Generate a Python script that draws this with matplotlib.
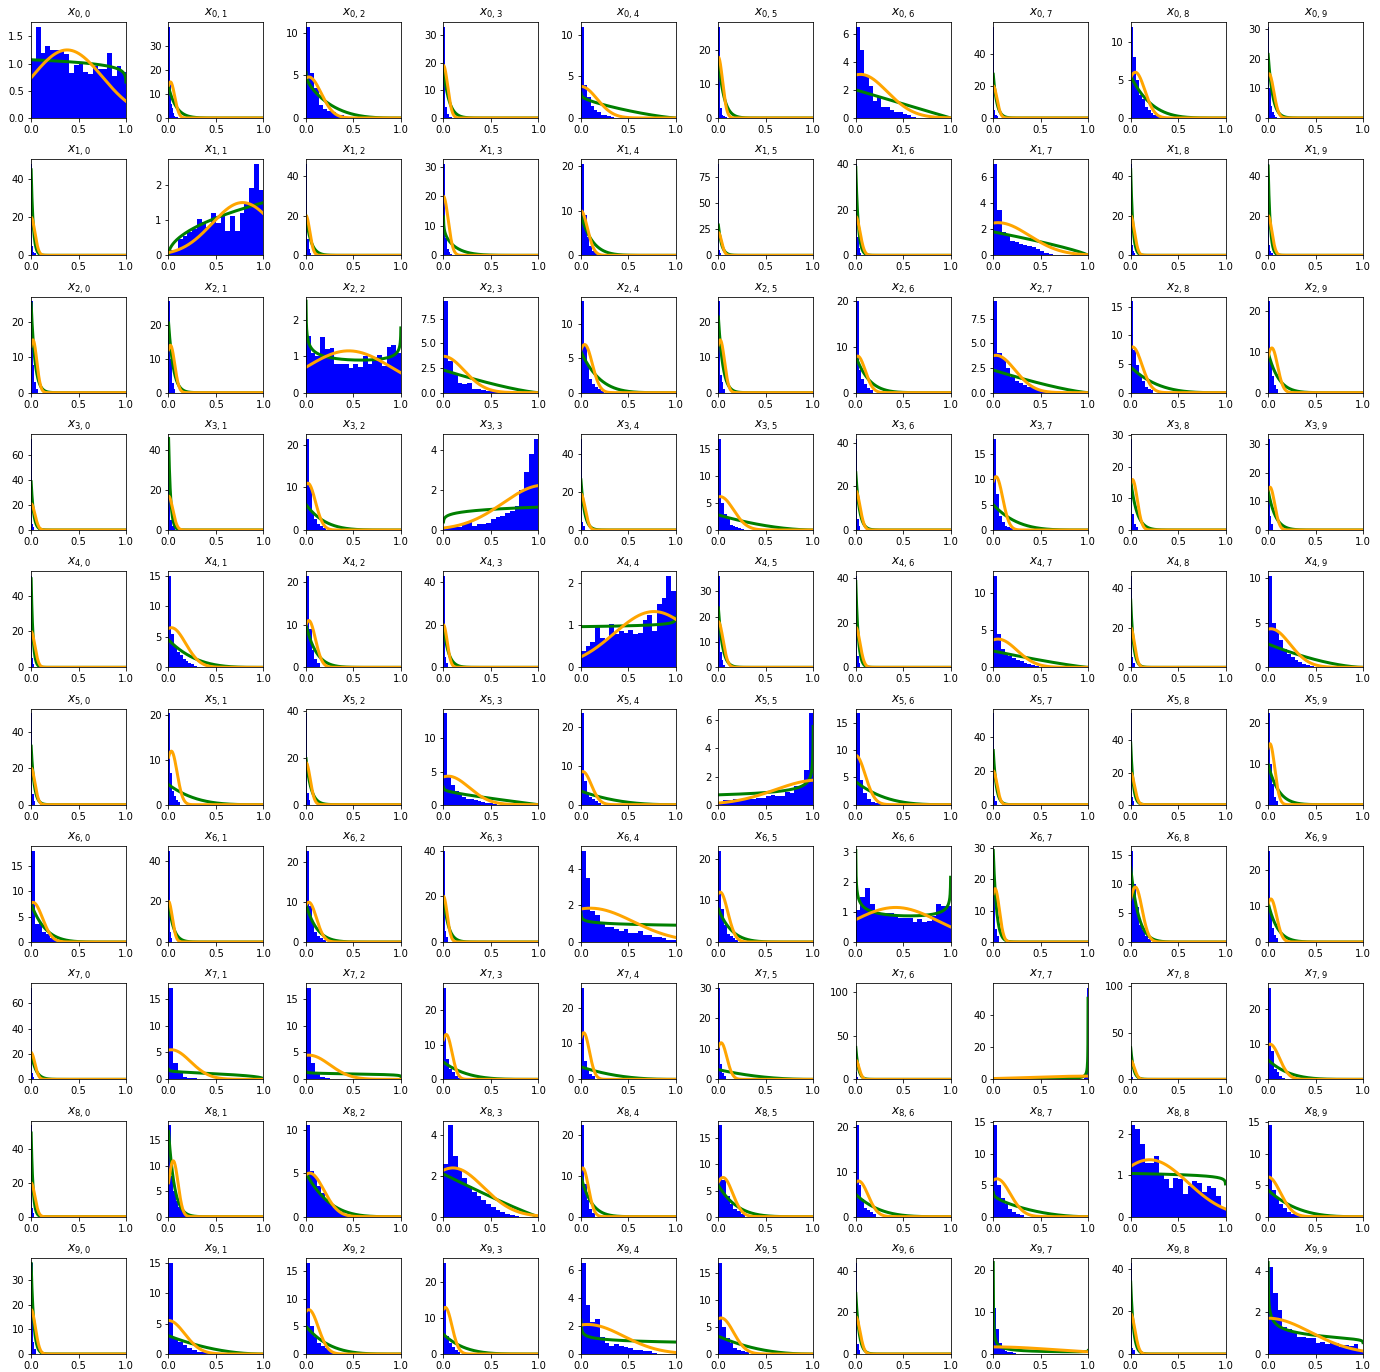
import math
import numpy as np
from matplotlib import pyplot as plt

# histogram bars per panel (density heights, bins start at bin_start with width bin_width)
heights_row0 = [
    [1.05, 1.68, 1.2, 1.33, 1.25, 1.25, 1.25, 1.18, 0.83, 0.97, 1.0, 0.85, 0.8, 0.95, 0.9, 0.9, 1.2, 0.78, 0.95, 0.85],
    [38, 14, 6, 4, 2, 1, 0.5, 0.3],
    [10.7, 5.3, 3.5, 1.5, 1.0, 0.8, 0.7, 0.4, 0.3, 0.1],
    [33, 4, 1.5, 0.5, 0.3],
    [11, 4, 2.5, 1.5, 1.0, 0.7, 0.4, 0.3, 0.2, 0.1],
    [27, 3, 1, 0.5, 0.2],
    [6.5, 4.8, 3.0, 2.3, 1.2, 1.5, 0.8, 0.8, 0.6, 0.4, 0.4, 0.3, 0.2, 0.1],
    [57, 5, 2, 1],
    [12, 8, 5, 3, 2.5, 1.5, 1, 0.7, 0.4, 0.3, 0.2],
    [31, 10, 4, 2, 1, 0.5],
]
heights_row1 = [
    [48, 5, 2, 1],
    [0.15, 0.15, 0.45, 0.55, 0.65, 0.75, 1.03, 0.95, 0.8, 1.2, 0.93, 1.15, 0.7, 1.12, 0.7, 1.2, 1.45, 1.9, 2.6, 1.87],
    [46, 8, 3, 1],
    [31, 6, 2, 1, 0.5],
    [20.5, 9, 4, 2, 1, 0.5],
    [88, 5, 2],
    [40, 8, 3, 1],
    [7, 3.5, 1.8, 1.5, 1.1, 1.0, 0.9, 0.8, 0.7, 0.6, 0.5, 0.3, 0.2, 0.1],
    [46, 5, 2, 1],
    [46, 5, 2, 1],
]
heights_row2 = [
    [26, 8, 3, 1],
    [27, 10, 3, 1],
    [1.55, 1.1, 1.0, 1.52, 1.2, 1.23, 0.78, 0.8, 0.78, 0.68, 0.78, 0.7, 1.0, 0.8, 0.97, 1.03, 0.72, 1.25, 1.3, 1.1],
    [9.3, 3.2, 2.0, 1.0, 0.85, 0.95, 0.4, 0.35, 0.3, 0.2, 0.15, 0.1],
    [13.3, 7, 4, 2, 1.3, 0.8, 0.5, 0.3],
    [26, 5, 3, 1],
    [20, 5, 3, 2, 1, 0.5],
    [9.3, 4.0, 3.5, 2.5, 1.6, 1.2, 1.0, 0.8, 0.6, 0.5, 0.4, 0.2, 0.1],
    [16, 7.5, 4.8, 3, 2, 1, 0.7, 0.4],
    [22.5, 8, 4, 2, 1],
]
heights_row3 = [
    [73, 5, 2],
    [31, 5, 2, 1],
    [21.5, 10, 4, 2.5, 1.5, 1, 0.5],
    [0.05, 0.2, 0.2, 0.15, 0.35, 0.4, 0.2, 0.3, 0.3, 0.35, 0.55, 0.65, 0.7, 0.85, 0.95, 1.2, 2.0, 2.9, 3.8, 4.6],
    [48, 4, 2],
    [17, 5, 3, 2, 1, 0.8, 0.5, 0.3, 0.2],
    [42, 5, 2],
    [18, 7, 2.8, 1.5, 0.8, 0.5, 0.3],
    [29, 5, 2, 1],
    [32, 5, 2],
]
heights_row4 = [
    [51, 5, 2],
    [15, 5.5, 3.5, 2.5, 2, 1.4, 1.0, 0.7, 0.5, 0.3],
    [21.5, 9, 4, 2, 1],
    [43, 5, 2],
    [0.4, 0.5, 0.6, 0.95, 0.7, 0.65, 1.03, 0.8, 0.87, 0.82, 0.9, 0.8, 0.82, 1.13, 1.25, 0.87, 1.5, 1.65, 2.18, 1.83],
    [36, 6, 3, 1],
    [41, 5, 2],
    [12.3, 4.5, 2.5, 1.8, 1.5, 1.2, 1.0, 0.8, 0.6, 0.4, 0.3, 0.2],
    [46, 5, 2],
    [10.2, 5, 4, 3, 2, 1.5, 1.2, 0.8, 0.6, 0.4, 0.3, 0.2],
]
heights_row5 = [
    [50, 6, 2],
    [20.5, 7, 3, 2, 1, 0.5],
    [39, 5, 2],
    [13.8, 4.5, 3, 2, 1.5, 1.2, 0.9, 0.8, 0.7, 0.5, 0.4, 0.3, 0.2, 0.1],
    [23.5, 6, 3, 2, 1.5, 1, 0.5],
    [0.1, 0.35, 0.35, 0.4, 0.4, 0.4, 0.4, 0.4, 0.45, 0.45, 0.6, 0.7, 0.6, 0.6, 0.9, 0.85, 1.35, 1.35, 2.45, 6.5],
    [16.7, 4.5, 2.2, 1.0, 0.5, 0.3, 0.2],
    [54, 5, 2],
    [57, 5, 2],
    [22.5, 10, 5, 2, 1],
]
heights_row6 = [
    [18, 3.5, 4, 2, 1.5, 0.8, 0.5, 0.3],
    [45, 5, 2],
    [23, 9, 5, 2.5, 1.5, 1, 0.5],
    [40, 5, 2],
    [5.0, 3.5, 1.7, 1.5, 1.0, 0.8, 0.8, 0.7, 0.6, 0.7, 0.5, 0.5, 0.6, 0.4, 0.4, 0.3, 0.3, 0.2, 0.1, 0.1],
    [22, 8, 4, 2, 1.5, 1, 0.5],
    [1.05, 1.5, 1.8, 1.25, 1.0, 0.95, 0.95, 0.95, 0.9, 0.8, 0.8, 0.8, 0.65, 0.75, 0.65, 0.7, 0.85, 1.25, 1.2, 1.2],
    [27.5, 4, 2],
    [15.8, 10, 6, 3, 2, 1, 0.5],
    [25.5, 8, 4, 2, 1],
]
heights_row7 = [
    [72, 5, 2],
    [17, 3, 1.5, 0.5, 0.3, 0.2],
    [17, 3, 1, 0.5, 0.3],
    [26.5, 6, 3, 2, 1, 0.5],
    [25.5, 5, 3, 1.5, 1],
    [30, 5, 2, 1],
    [105, 8, 3],
    [0.5, 1, 3, 10, 57],
    [98, 10, 3],
    [26, 8, 3, 2, 1, 0.5],
]
heights_row8 = [
    [54, 5, 2],
    [18, 8, 5, 3, 2, 1.5, 1, 0.5],
    [10.5, 5.3, 4.5, 3.5, 2.7, 2.0, 1.5, 1.0, 0.8, 0.5, 0.3, 0.2],
    [2.6, 4.5, 3.0, 2.3, 1.9, 1.5, 1.2, 1.0, 0.8, 0.6, 0.5, 0.35, 0.25, 0.15, 0.1, 0.05],
    [22.5, 8, 4, 2, 1],
    [17.5, 7, 4, 2.5, 1.5, 1, 0.5],
    [20.5, 7, 4, 2, 1.5, 1, 0.5],
    [14.5, 5, 3, 2, 1.2, 0.8, 0.5, 0.3],
    [2.2, 2.1, 1.75, 1.3, 1.3, 1.45, 1.05, 0.9, 0.7, 0.93, 0.9, 0.55, 0.75, 0.85, 0.8, 0.6, 0.75, 0.68, 0.5, 0.2],
    [14.5, 4.2, 3, 2, 1.3, 0.8, 0.5, 0.3, 0.2],
]
heights_row9 = [
    [37, 5, 2],
    [15, 2.5, 2.0, 1.5, 1.0, 0.6, 0.4, 0.3, 0.2, 0.1],
    [16.5, 5, 3, 2, 1.5, 1, 0.5, 0.3],
    [25.5, 5, 3, 2, 1, 0.5],
    [6.5, 3.5, 2.3, 2.5, 1.2, 0.8, 0.6, 0.7, 0.6, 0.5, 0.4, 0.3, 0.3, 0.2, 0.2, 0.1],
    [17, 5, 3, 2, 1.2, 0.7, 0.5, 0.3],
    [44, 5, 2],
    [11, 6, 2.7, 1.2, 0.8, 0.5, 0.4, 0.3],
    [43, 3, 2],
    [4.2, 2.95, 2.1, 1.3, 1.2, 1.0, 0.8, 0.8, 0.75, 0.75, 0.55, 0.6, 0.5, 0.6, 0.55, 0.35, 0.45, 0.4, 0.5, 0.2],
]
bar_heights = [heights_row0, heights_row1, heights_row2, heights_row3, heights_row4,
               heights_row5, heights_row6, heights_row7, heights_row8, heights_row9]

bin_width = [
    [0.05, 0.012, 0.045, 0.018, 0.035, 0.018, 0.045, 0.012, 0.03, 0.015],
    [0.012, 0.05, 0.014, 0.018, 0.03, 0.01, 0.015, 0.045, 0.012, 0.012],
    [0.018, 0.018, 0.05, 0.05, 0.03, 0.018, 0.03, 0.045, 0.03, 0.02],
    [0.01, 0.018, 0.03, 0.05, 0.014, 0.03, 0.015, 0.03, 0.02, 0.018],
    [0.012, 0.03, 0.03, 0.015, 0.05, 0.018, 0.015, 0.04, 0.015, 0.04],
    [0.014, 0.02, 0.015, 0.04, 0.03, 0.05, 0.04, 0.012, 0.012, 0.02],
    [0.04, 0.014, 0.03, 0.015, 0.05, 0.03, 0.05, 0.02, 0.03, 0.02],
    [0.01, 0.05, 0.05, 0.03, 0.03, 0.02, 0.007, 0.01, 0.008, 0.03],
    [0.012, 0.025, 0.04, 0.05, 0.03, 0.04, 0.03, 0.04, 0.05, 0.04],
    [0.018, 0.05, 0.04, 0.03, 0.05, 0.04, 0.015, 0.03, 0.015, 0.05],
]
# only x_{7,7} has its samples piled up near 1
bin_start = {(7, 7): 0.95}

# green curve: beta(a, b) fit
beta_a = [
    [1.0, 1, 0.95, 1, 0.95, 1, 1, 1, 1, 1],
    [1, 1.5, 1, 0.85, 1, 1, 1, 1, 1, 1],
    [1, 1, 0.82, 1, 1, 1, 1, 1, 1, 1],
    [1, 1, 1, 1.15, 1, 1, 1, 1, 1, 1],
    [1, 1, 1, 1, 1.0, 1, 1, 1, 1, 1],
    [1, 1, 1, 0.95, 1, 1, 1, 1, 1, 1],
    [1, 1, 1, 1, 0.92, 1, 0.78, 1, 1, 1],
    [1, 0.95, 0.95, 1, 1, 1, 1, 0.8, 1, 1],
    [1, 1, 1, 1, 1, 1, 1, 0.95, 1, 1],
    [1, 1, 1, 1, 0.85, 1, 1, 0.42, 1, 0.75],
]
beta_b = [
    [1.07, 13, 4.2, 18, 2.3, 18, 2, 28, 5.5, 22],
    [47, 1.0, 20, 7, 9, 30, 40, 1.8, 45, 47],
    [26, 21, 0.87, 2.3, 6, 22, 8, 2.3, 4.5, 10],
    [40, 48, 6, 1.0, 27, 2.8, 27, 5, 16, 14],
    [52, 4.5, 10, 20, 0.97, 24, 40, 2.2, 35, 2.6],
    [33, 4.5, 20, 2, 3.5, 0.7, 4.2, 33, 40, 10],
    [7.5, 20, 9.5, 20, 1.0, 8, 0.83, 30, 13, 11],
    [21, 1.4, 1.1, 5, 3.5, 3.2, 38, 0.15, 35, 5.5],
    [52, 17, 5, 2.1, 10, 6, 5, 3, 1.04, 4.2],
    [38, 3, 5, 5.5, 1.0, 3.3, 30, 0.9, 35, 1.05],
]

# orange curve: gaussian bump, peak height / centre / width
orange_peak = [
    [1.25, 15, 4.8, 19, 3.8, 18, 3.1, 20, 6, 15],
    [20, 1.5, 20, 20, 10, 22, 17, 2.5, 20, 20],
    [15, 14, 1.15, 3.7, 7, 15, 8, 3.8, 8, 11],
    [21, 17, 11, 2.25, 19, 6.2, 18, 10.5, 16, 15],
    [20, 6.5, 11, 20, 1.33, 18, 18, 3.8, 20, 4.3],
    [20, 12, 18, 4.3, 8.5, 1.75, 9, 20, 20, 15],
    [7.8, 20, 10, 20, 1.85, 12, 1.15, 17, 9.5, 12],
    [21, 5.5, 4.5, 13, 13, 12, 22, 2, 20, 10],
    [20, 11, 5, 2.4, 12, 7.5, 8, 6, 1.37, 6.3],
    [18, 5.5, 8, 13, 2.1, 6.7, 18, 1.7, 19, 1.72],
]
orange_mu = [
    [0.38, 0.02, 0.03, 0, 0, 0, 0.05, 0, 0.05, 0.01],
    [0, 0.78, 0, 0, 0, 0, 0, 0.05, 0, 0],
    [0.02, 0.02, 0.45, 0, 0.04, 0.02, 0.02, 0.03, 0.02, 0.04],
    [0, 0, 0.02, 1.05, 0, 0.02, 0, 0.03, 0.02, 0.02],
    [0, 0.03, 0.03, 0, 0.77, 0, 0, 0.05, 0, 0.03],
    [0, 0.03, 0, 0.05, 0.02, 1.05, 0, 0, 0, 0.02],
    [0.02, 0, 0.03, 0, 0.1, 0.02, 0.42, 0.02, 0.05, 0.03],
    [0, 0.03, 0.03, 0.03, 0.03, 0.03, 0, 1, 0, 0.02],
    [0, 0.05, 0.04, 0.1, 0.02, 0.05, 0.03, 0.04, 0.2, 0],
    [0, 0, 0.03, 0.02, 0.07, 0.03, 0, 0, 0, 0],
]
orange_sd = [
    [0.37, 0.045, 0.13, 0.045, 0.17, 0.045, 0.28, 0.04, 0.1, 0.05],
    [0.04, 0.32, 0.04, 0.05, 0.07, 0.035, 0.045, 0.33, 0.04, 0.04],
    [0.04, 0.045, 0.45, 0.22, 0.08, 0.045, 0.08, 0.2, 0.1, 0.06],
    [0.04, 0.045, 0.08, 0.42, 0.045, 0.14, 0.045, 0.07, 0.05, 0.05],
    [0.04, 0.15, 0.07, 0.04, 0.42, 0.05, 0.045, 0.2, 0.04, 0.2],
    [0.04, 0.06, 0.045, 0.22, 0.09, 0.45, 0.1, 0.04, 0.04, 0.05],
    [0.1, 0.04, 0.08, 0.04, 0.45, 0.08, 0.45, 0.045, 0.07, 0.06],
    [0.04, 0.2, 0.22, 0.06, 0.06, 0.06, 0.035, 0.6, 0.04, 0.1],
    [0.04, 0.05, 0.15, 0.32, 0.06, 0.1, 0.1, 0.14, 0.4, 0.13],
    [0.045, 0.17, 0.1, 0.07, 0.38, 0.13, 0.045, 0.65, 0.045, 0.45],
]


def beta_pdf(x, a, b):
    lb = math.lgamma(a) + math.lgamma(b) - math.lgamma(a + b)
    return np.exp((a - 1) * np.log(x) + (b - 1) * np.log(1 - x) - lb)


xg = np.linspace(0.001, 0.999, 600)
xo = np.linspace(0, 1, 400)

fig = plt.figure(figsize=(1380 / 72, 1372 / 72), dpi=72)
axes = fig.subplots(10, 10)
fig.subplots_adjust(left=0.0225, right=0.9877, bottom=0.0131, top=0.984, wspace=0.447, hspace=0.43)

for i in range(10):
    for j in range(10):
        ax = axes[i][j]
        h = bar_heights[i][j]
        w = bin_width[i][j]
        lo = bin_start.get((i, j), 0.0)
        left = lo + w * np.arange(len(h))
        ax.bar(left, h, width=w, align='edge', color='blue', linewidth=0)
        ax.plot(xg, beta_pdf(xg, beta_a[i][j], beta_b[i][j]), color='green', lw=3)
        mu, sd = orange_mu[i][j], orange_sd[i][j]
        ax.plot(xo, orange_peak[i][j] * np.exp(-(xo - mu) ** 2 / (2 * sd ** 2)), color='orange', lw=3)
        ax.set_xlim(0, 1)
        ax.set_xticks([0, 0.5, 1.0])
        ax.set_title(f'$x_{{{i},{j}}}$')

fig.savefig('out.png', dpi=72)
